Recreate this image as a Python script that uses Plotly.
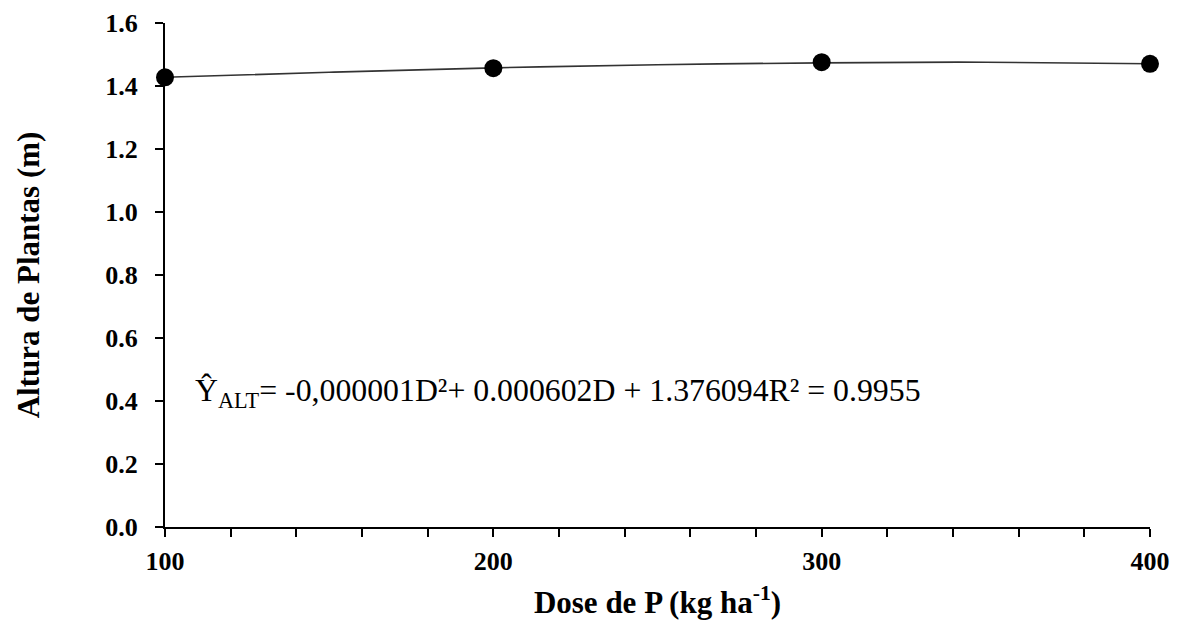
import plotly.graph_objects as go

dose = [100, 200, 300, 400]
altura = [1.428, 1.457, 1.476, 1.471]

trend_x = [100, 150, 200, 250, 300, 350, 400]
trend_y = [1.428, 1.444, 1.458, 1.468, 1.474, 1.476, 1.471]

y_ticks = [0.0, 0.2, 0.4, 0.6, 0.8, 1.0, 1.2, 1.4, 1.6]
x_ticks = [100, 200, 300, 400]

equation = "Ŷ<sub>ALT</sub>= -0,000001D²+ 0.000602D + 1.376094R² = 0.9955"

fig = go.Figure()
fig.add_trace(go.Scatter(x=trend_x, y=trend_y, mode="lines",
                         line=dict(color="#333333", width=1.6, shape="spline"),
                         showlegend=False, hoverinfo="skip", cliponaxis=False))
fig.add_trace(go.Scatter(x=dose, y=altura, mode="markers",
                         marker=dict(color="black", size=18),
                         showlegend=False, cliponaxis=False))

fig.add_annotation(x=108.5, y=0.426, xref="x", yref="y", text=equation,
                   showarrow=False, xanchor="left", yanchor="middle",
                   font=dict(family="Liberation Serif", size=31.8, color="black"))

fig.update_layout(
    width=1184, height=626,
    margin=dict(l=157, r=42, t=15, b=107),
    plot_bgcolor="white", paper_bgcolor="white",
    xaxis=dict(range=[100, 400], tickvals=x_ticks, ticktext=[str(v) for v in x_ticks],
               ticks="outside", ticklen=8, tickwidth=2, tickcolor="black",
               ticklabelstandoff=2, automargin=False, ticklabeloverflow="allow",
               minor=dict(dtick=20, ticks="outside", ticklen=8, tickwidth=2, tickcolor="black", showgrid=False),
               showline=True, linecolor="black", linewidth=2, showgrid=False, zeroline=False,
               tickfont=dict(size=26, family="Liberation Serif", color="black", weight="bold"),
               title=dict(text="Dose de P (kg ha<sup>-1</sup>)", standoff=16,
                          font=dict(size=31, family="Liberation Serif", color="black", weight="bold"))),
    yaxis=dict(range=[0, 1.6005], tickvals=y_ticks, ticktext=[f"{v:.1f}" for v in y_ticks],
               ticks="outside", ticklen=8, tickwidth=2, tickcolor="black",
               ticklabelstandoff=12, automargin=False, ticklabeloverflow="allow",
               showline=True, linecolor="black", linewidth=2, showgrid=False, zeroline=False,
               tickfont=dict(size=26, family="Liberation Serif", color="black", weight="bold"),
               title=dict(text="Altura de Plantas (m)", standoff=56,
                          font=dict(size=31, family="Liberation Serif", color="black", weight="bold"))),
)

fig.write_html("out.html")
